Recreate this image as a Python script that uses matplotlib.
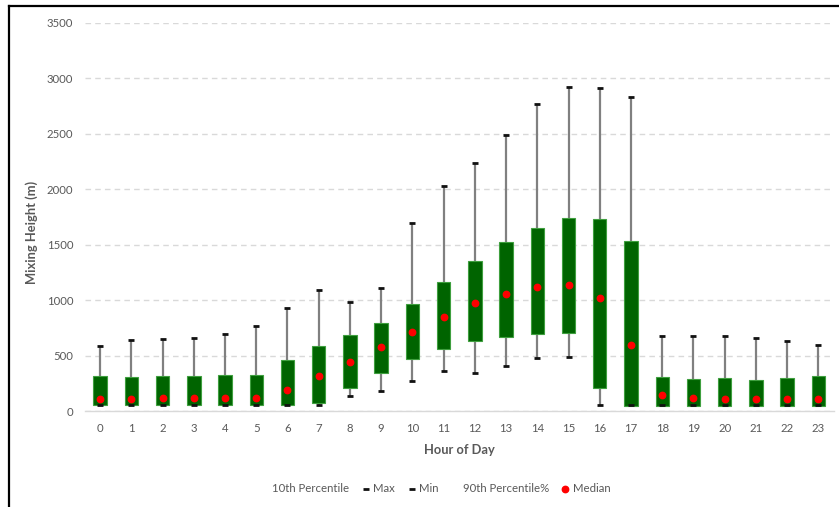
import matplotlib
matplotlib.use("Agg")
import matplotlib.pyplot as plt
from matplotlib.lines import Line2D
import numpy as np

plt.rcParams['font.family'] = ['Lato', 'DejaVu Sans']

hours = list(range(24))
p10 = [50, 50, 50, 50, 50, 50, 50, 75, 205, 343, 466, 559, 631, 670, 697, 700,
       205, 48, 48, 48, 48, 48, 48, 48]
p90 = [315, 310, 315, 315, 327, 321, 463, 589, 688, 791, 962, 1160, 1350, 1524, 1650, 1737,
       1734, 1533, 310, 286, 298, 280, 298, 315]
median = [111, 112, 115, 115, 115, 115, 192, 318, 442, 574, 712, 850, 971, 1058, 1115, 1139,
          1019, 598, 141, 117, 111, 111, 111, 111]
max_h = [589, 643, 652, 658, 697, 766, 929, 1088, 980, 1106, 1698, 2030, 2233, 2492, 2771, 2916,
         2910, 2834, 673, 679, 679, 661, 631, 592]
min_h = [50, 50, 50, 50, 50, 50, 50, 55, 135, 183, 270, 364, 343, 406, 475, 490,
         55, 50, 50, 50, 50, 50, 50, 50]

yticks = [0, 500, 1000, 1500, 2000, 2500, 3000, 3500]

W, H = 839, 507
fig = plt.figure(figsize=(W / 100, H / 100), dpi=100)
ax = fig.add_axes([84.5 / W, (H - 411) / H, (834 - 84.5) / W, (411 - 22.7) / H])

x = np.array(hours)
lo = np.array(p10)
hi = np.array(p90)

# whiskers span min..max behind the percentile boxes
ax.vlines(x, min_h, max_h, color='#808080', lw=1.6, zorder=2)
ax.bar(x, hi - lo, bottom=lo, width=0.43, color='#006400', edgecolor='#3f9f3f',
       linewidth=0.8, zorder=3)
ax.plot(x, max_h, ls='none', marker='_', ms=4.0, mew=2.0, color='#111111', zorder=4)
ax.plot(x, min_h, ls='none', marker='_', ms=4.0, mew=2.0, color='#111111', zorder=4)
ax.plot(x, median, ls='none', marker='o', ms=4.6, color='#ff0000', mec='#ff0000', zorder=5)

ax.set_xlim(-0.5, 23.5)
ax.set_ylim(0, 3500)
ax.set_yticks(yticks)
ax.set_xticks(hours)
ax.set_xticklabels([str(h) for h in hours])
ax.yaxis.grid(True, color='#d9d9d9', linestyle=(0, (4, 3)), linewidth=1.0)
ax.set_axisbelow(True)
for s in ['top', 'right', 'left']:
    ax.spines[s].set_visible(False)
ax.spines['bottom'].set_color('#d9d9d9')
ax.spines['bottom'].set_linewidth(1.0)
ax.tick_params(axis='both', length=0, labelsize=8.2, labelcolor='#595959')
ax.tick_params(axis='x', pad=9)
ax.tick_params(axis='y', pad=8)

ax.set_xlabel('Hour of Day', fontsize=9.3, fontweight='bold', color='#595959', labelpad=7)
ax.set_ylabel('Mixing Height (m)', fontsize=9.3, fontweight='bold', color='#595959')
ax.yaxis.set_label_coords((38 - 84.5) / (834 - 84.5), (411 - 232) / (411 - 22.7))

handles = [
    Line2D([], [], ls='none'),
    Line2D([], [], ls='none', marker='_', ms=4.0, mew=2.0, color='#111111'),
    Line2D([], [], ls='none', marker='_', ms=4.0, mew=2.0, color='#111111'),
    Line2D([], [], ls='none'),
    Line2D([], [], ls='none', marker='o', ms=4.6, color='#ff0000'),
]
labels = ['10th Percentile', 'Max', 'Min', '90th Percentile%', 'Median']
leg = fig.legend(handles, labels, loc='center', bbox_to_anchor=(436 / W, (H - 489) / H),
                 ncol=5, frameon=False, fontsize=8.2, handlelength=0.6, handletextpad=0.35,
                 columnspacing=1.15, labelcolor='#595959')

# outer frame (left and top edges)
fig.add_artist(Line2D([8.5 / W, 8.5 / W], [0, (H - 5.5) / H], color='black', lw=1.6,
                      transform=fig.transFigure))
fig.add_artist(Line2D([8.5 / W, 1], [(H - 5.5) / H, (H - 5.5) / H], color='black', lw=1.6,
                      transform=fig.transFigure))

fig.savefig('out.png', dpi=100)
